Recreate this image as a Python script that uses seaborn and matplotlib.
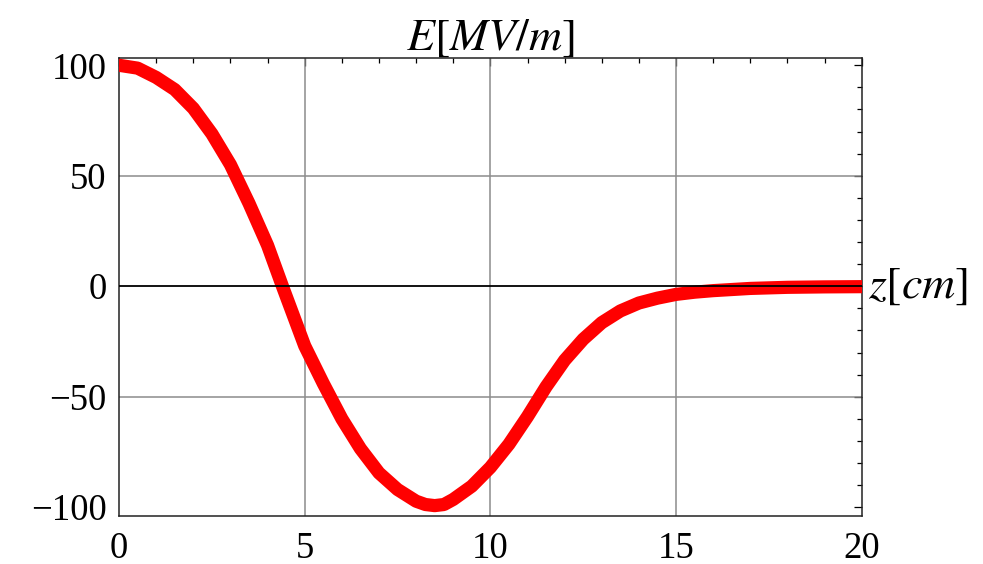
import matplotlib
matplotlib.use("Agg")
import matplotlib.pyplot as plt
import matplotlib.transforms as mtransforms
from matplotlib.ticker import MultipleLocator
import pandas as pd
import seaborn as sns

# valores
z_cm = [0, 0.5, 1, 1.5, 2, 2.5, 3, 3.5, 4, 4.4, 5, 5.5, 6, 6.5, 7, 7.5, 8,
        8.25, 8.5, 8.75, 9, 9.5, 10, 10.5, 11, 11.5, 12, 12.5, 13, 13.5, 14,
        14.5, 15, 15.5, 16, 17, 18, 19, 20]
e_mvm = [100, 98.7, 94.5, 89, 80.5, 69, 55, 37.5, 18.5, 0, -27, -44, -60,
         -73.5, -84.5, -92, -97.3, -98.8, -99.3, -98.8, -96.5, -90.5, -82,
         -71.5, -59, -45.5, -33.5, -24, -16.5, -11.2, -7.6, -5.4, -3.7, -2.7,
         -2, -1, -0.5, -0.3, -0.2]

x_ticks = [0, 5, 10, 15, 20]
y_ticks = [-100, -50, 0, 50, 100]

df = pd.DataFrame({"z": z_cm, "E": e_mvm})

sns.set_style("white")
plt.rcParams["font.family"] = ["Liberation Serif", "DejaVu Serif"]
plt.rcParams["mathtext.fontset"] = "stix"
plt.rcParams["text.color"] = "black"

fig = plt.figure(figsize=(9.83, 5.64), dpi=100)
ax = fig.add_axes([0.1211, 0.0851, 0.7555, 0.8121])

sns.lineplot(data=df, x="z", y="E", ax=ax, color="#ff0000", linewidth=9.5,
             solid_capstyle="round", solid_joinstyle="round", zorder=3)

ax.set_xlim(0, 20)
ax.set_ylim(-104, 103.3)
ax.set_xticks(x_ticks)
ax.set_yticks(y_ticks)
ax.xaxis.set_minor_locator(MultipleLocator(1))
ax.yaxis.set_minor_locator(MultipleLocator(10))

# rejilla y eje cero
for xv in [5, 10, 15]:
    ax.axvline(xv, color="#8c8c8c", linewidth=1.1, zorder=1)
for yv in [-50, 50]:
    ax.axhline(yv, color="#8c8c8c", linewidth=1.1, zorder=1)
ax.axhline(0, color="black", linewidth=1.3, zorder=4)

ax.tick_params(which="both", direction="in", top=True, right=True,
               color="black", width=0.9, labelsize=26.5, labelcolor="black")
ax.tick_params(which="major", length=5.8)
ax.tick_params(which="minor", length=3.6)
ax.tick_params(axis="x", which="major", pad=11)
ax.tick_params(axis="y", which="major", pad=9)
for s in ax.spines.values():
    s.set_color("#222222")
    s.set_linewidth(1.1)

ax.set_xlabel("")
ax.set_ylabel("")
ax.set_title(r"$E[MV/m]$", fontsize=33, pad=6, color="black")

trans = mtransforms.blended_transform_factory(ax.transAxes, ax.transData)
ax.text(1.008, 0, r"$z[cm]$", transform=trans, fontsize=33,
        ha="left", va="center", color="black")

fig.savefig("out.png", dpi=100, facecolor="white")
